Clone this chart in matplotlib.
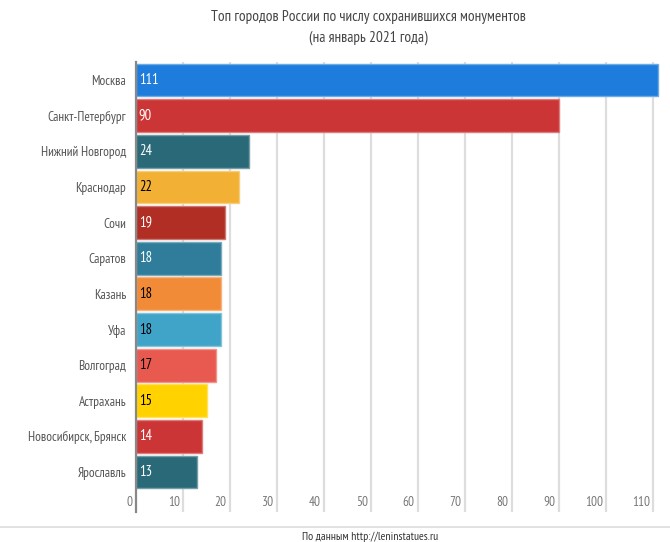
import matplotlib
matplotlib.use('Agg')
import matplotlib.pyplot as plt
import matplotlib.colors as mcolors
from matplotlib.transforms import blended_transform_factory

# данные
cities = ['Москва', 'Санкт-Петербург', 'Нижний Новгород', 'Краснодар', 'Сочи',
          'Саратов', 'Казань', 'Уфа', 'Волгоград', 'Астрахань',
          'Новосибирск, Брянск', 'Ярославль']
counts = [111, 90, 24, 22, 19, 18, 18, 18, 17, 15, 14, 13]
colors = ['#1e7ddc', '#cc3535', '#2a6a78', '#f2b134', '#b02e24', '#2f7d9a',
          '#f28b38', '#40a4c8', '#e85a4f', '#ffd200', '#cc3535', '#2a6a78']
label_colors = ['white', 'white', 'white', 'black', 'white', 'white',
                'black', 'black', 'black', 'black', 'white', 'white']
xticks = [0, 10, 20, 30, 40, 50, 60, 70, 80, 90, 100, 110]

plt.rcParams['font.family'] = ['PT Sans Narrow', 'Roboto Condensed', 'Fira Sans Condensed',
                               'Sofia Sans Semi Condensed', 'DejaVu Sans']

fig = plt.figure(figsize=(6.7, 5.42), dpi=100)
W, H = 670, 542
left, right, top, bottom = 136, 662.4, 62, 512
ax = fig.add_axes([left / W, 1 - bottom / H, (right - left) / W, (bottom - top) / H])

y = list(range(len(cities)))
edges = []
for c in colors:
    r, g, b = mcolors.to_rgb(c)
    edges.append((r + (1 - r) * 0.35, g + (1 - g) * 0.35, b + (1 - b) * 0.35))
ax.barh(y, counts, height=0.92, color=colors, edgecolor=edges, linewidth=1, zorder=3)

ax.set_xlim(0, 112)
ax.set_ylim(12.12, -0.505)

# сетка
for t in xticks[1:]:
    ax.axvline(t, color='#dddddd', lw=1.6, zorder=1)

trans = blended_transform_factory(ax.transData, ax.transAxes)
for t in xticks:
    ax.text(t - 0.7, 0.022, str(t), transform=trans, ha='right', va='center',
            fontsize=9.5, color='#777777')

for i, (v, lc) in enumerate(zip(counts, label_colors)):
    ax.text(0.6, i, str(v), ha='left', va='center', fontsize=10.5, color=lc, zorder=4)

ax.set_yticks(y)
ax.set_yticklabels(cities, fontsize=9.5, color='#555555')
ax.tick_params(axis='y', length=0, pad=7)
ax.set_xticks([])
for s in ['top', 'right', 'bottom']:
    ax.spines[s].set_visible(False)
ax.spines['left'].set_color('#888888')
ax.spines['left'].set_linewidth(1.6)
ax.spines['left'].set_zorder(5)

fig.text(368 / W, 1 - 17 / H, 'Топ городов России по числу сохранившихся монументов',
         ha='center', va='center', fontsize=11, color='#444444')
fig.text(368 / W, 1 - 38 / H, '(на январь 2021 года)',
         ha='center', va='center', fontsize=11, color='#444444')

fig.add_artist(plt.Line2D([0, 1], [1 - 527 / H, 1 - 527 / H], color='#dddddd', lw=1.2))
fig.text(370 / W, 1 - 537 / H, 'По данным http://leninstatues.ru',
         ha='center', va='center', fontsize=8.5, color='#333333')

fig.savefig('out.png', dpi=100)
